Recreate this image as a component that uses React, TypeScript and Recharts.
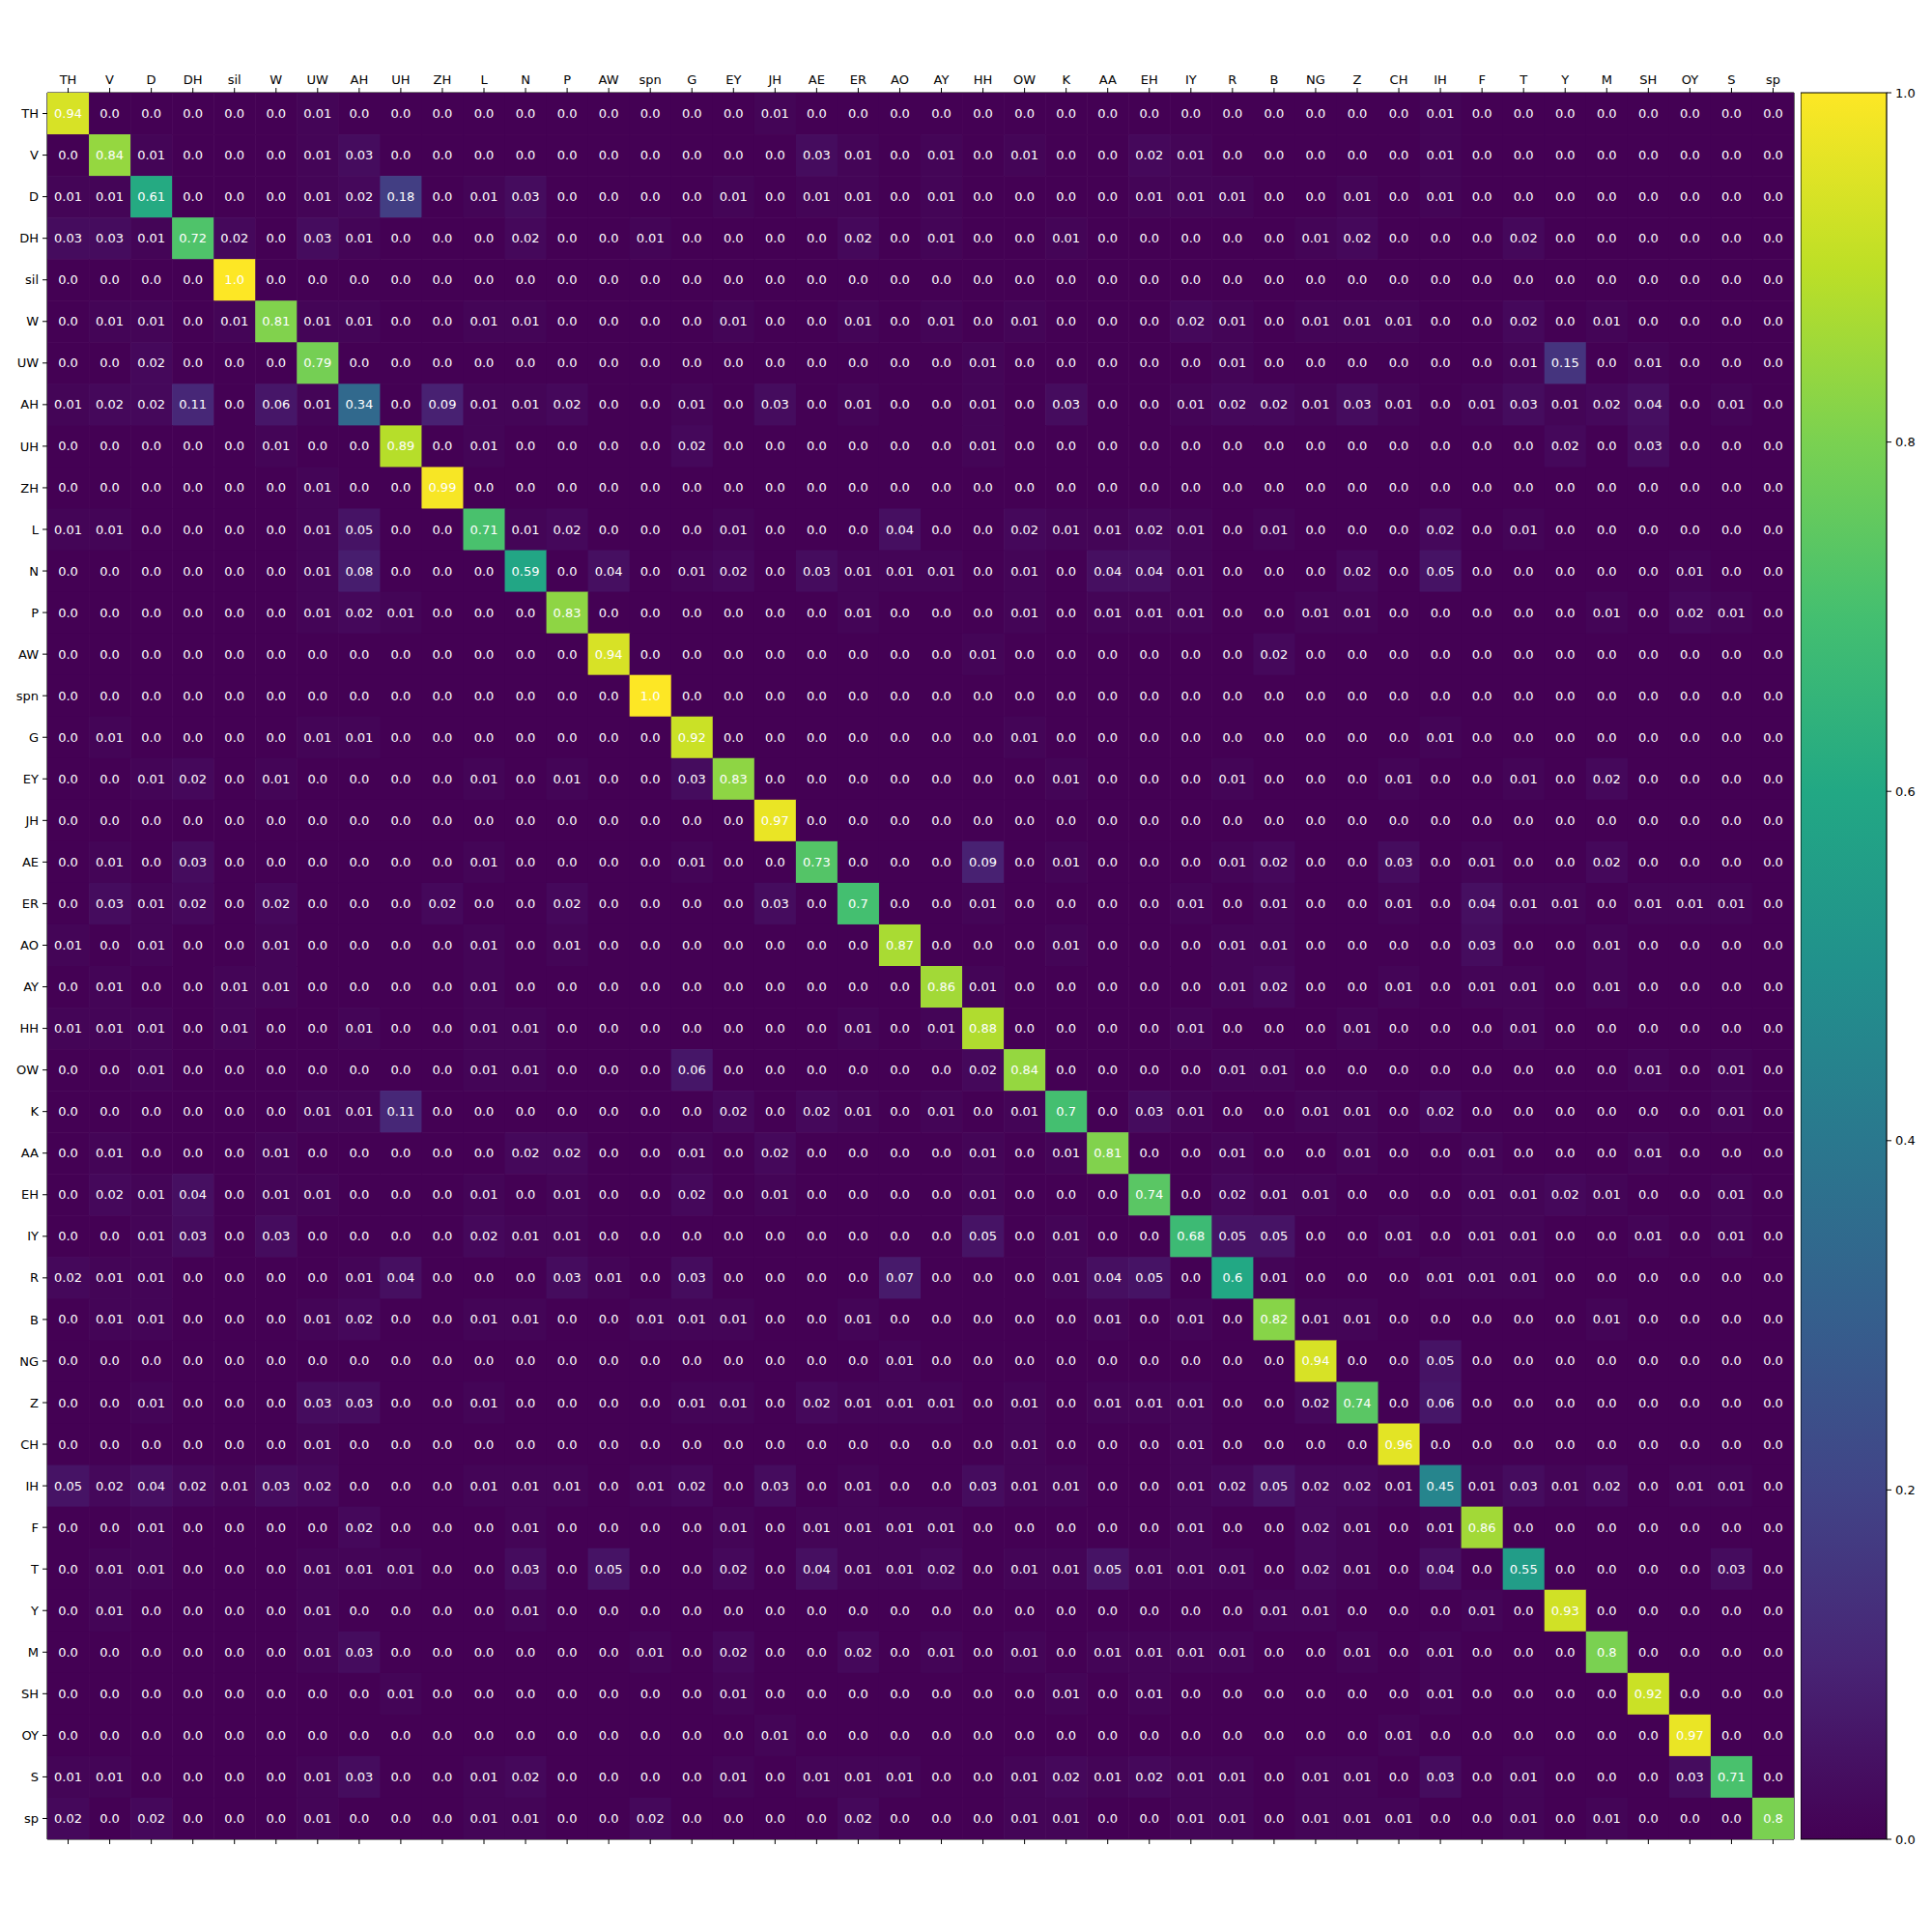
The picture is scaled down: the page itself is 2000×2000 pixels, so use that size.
import { ScatterChart, Scatter, XAxis, YAxis, ReferenceLine, BarChart, Bar } from 'recharts'

const LABELS = [
  'TH', 'V', 'D', 'DH', 'sil', 'W', 'UW', 'AH', 'UH', 'ZH', 'L', 'N', 'P', 'AW',
  'spn', 'G', 'EY', 'JH', 'AE', 'ER', 'AO', 'AY', 'HH', 'OW', 'K', 'AA', 'EH', 'IY',
  'R', 'B', 'NG', 'Z', 'CH', 'IH', 'F', 'T', 'Y', 'M', 'SH', 'OY', 'S', 'sp',
]

// one row per true label, columns in LABELS order
const CONFUSION: number[][] = [
  /* TH */ [0.94,0,0,0,0,0,0.01,0,0,0,0,0,0,0, 0,0,0,0.01,0,0,0,0,0,0,0,0,0,0, 0,0,0,0,0,0.01,0,0,0,0,0,0,0,0],
  /* V */ [0,0.84,0.01,0,0,0,0.01,0.03,0,0,0,0,0,0, 0,0,0,0,0.03,0.01,0,0.01,0,0.01,0,0,0.02,0.01, 0,0,0,0,0,0.01,0,0,0,0,0,0,0,0],
  /* D */ [0.01,0.01,0.61,0,0,0,0.01,0.02,0.18,0,0.01,0.03,0,0, 0,0,0.01,0,0.01,0.01,0,0.01,0,0,0,0,0.01,0.01, 0.01,0,0,0.01,0,0.01,0,0,0,0,0,0,0,0],
  /* DH */ [0.03,0.03,0.01,0.72,0.02,0,0.03,0.01,0,0,0,0.02,0,0, 0.01,0,0,0,0,0.02,0,0.01,0,0,0.01,0,0,0, 0,0,0.01,0.02,0,0,0,0.02,0,0,0,0,0,0],
  /* sil */ [0,0,0,0,1,0,0,0,0,0,0,0,0,0, 0,0,0,0,0,0,0,0,0,0,0,0,0,0, 0,0,0,0,0,0,0,0,0,0,0,0,0,0],
  /* W */ [0,0.01,0.01,0,0.01,0.81,0.01,0.01,0,0,0.01,0.01,0,0, 0,0,0.01,0,0,0.01,0,0.01,0,0.01,0,0,0,0.02, 0.01,0,0.01,0.01,0.01,0,0,0.02,0,0.01,0,0,0,0],
  /* UW */ [0,0,0.02,0,0,0,0.79,0,0,0,0,0,0,0, 0,0,0,0,0,0,0,0,0.01,0,0,0,0,0, 0.01,0,0,0,0,0,0,0.01,0.15,0,0.01,0,0,0],
  /* AH */ [0.01,0.02,0.02,0.11,0,0.06,0.01,0.34,0,0.09,0.01,0.01,0.02,0, 0,0.01,0,0.03,0,0.01,0,0,0.01,0,0.03,0,0,0.01, 0.02,0.02,0.01,0.03,0.01,0,0.01,0.03,0.01,0.02,0.04,0,0.01,0],
  /* UH */ [0,0,0,0,0,0.01,0,0,0.89,0,0.01,0,0,0, 0,0.02,0,0,0,0,0,0,0.01,0,0,0,0,0, 0,0,0,0,0,0,0,0,0.02,0,0.03,0,0,0],
  /* ZH */ [0,0,0,0,0,0,0.01,0,0,0.99,0,0,0,0, 0,0,0,0,0,0,0,0,0,0,0,0,0,0, 0,0,0,0,0,0,0,0,0,0,0,0,0,0],
  /* L */ [0.01,0.01,0,0,0,0,0.01,0.05,0,0,0.71,0.01,0.02,0, 0,0,0.01,0,0,0,0.04,0,0,0.02,0.01,0.01,0.02,0.01, 0,0.01,0,0,0,0.02,0,0.01,0,0,0,0,0,0],
  /* N */ [0,0,0,0,0,0,0.01,0.08,0,0,0,0.59,0,0.04, 0,0.01,0.02,0,0.03,0.01,0.01,0.01,0,0.01,0,0.04,0.04,0.01, 0,0,0,0.02,0,0.05,0,0,0,0,0,0.01,0,0],
  /* P */ [0,0,0,0,0,0,0.01,0.02,0.01,0,0,0,0.83,0, 0,0,0,0,0,0.01,0,0,0,0.01,0,0.01,0.01,0.01, 0,0,0.01,0.01,0,0,0,0,0,0.01,0,0.02,0.01,0],
  /* AW */ [0,0,0,0,0,0,0,0,0,0,0,0,0,0.94, 0,0,0,0,0,0,0,0,0.01,0,0,0,0,0, 0,0.02,0,0,0,0,0,0,0,0,0,0,0,0],
  /* spn */ [0,0,0,0,0,0,0,0,0,0,0,0,0,0, 1,0,0,0,0,0,0,0,0,0,0,0,0,0, 0,0,0,0,0,0,0,0,0,0,0,0,0,0],
  /* G */ [0,0.01,0,0,0,0,0.01,0.01,0,0,0,0,0,0, 0,0.92,0,0,0,0,0,0,0,0.01,0,0,0,0, 0,0,0,0,0,0.01,0,0,0,0,0,0,0,0],
  /* EY */ [0,0,0.01,0.02,0,0.01,0,0,0,0,0.01,0,0.01,0, 0,0.03,0.83,0,0,0,0,0,0,0,0.01,0,0,0, 0.01,0,0,0,0.01,0,0,0.01,0,0.02,0,0,0,0],
  /* JH */ [0,0,0,0,0,0,0,0,0,0,0,0,0,0, 0,0,0,0.97,0,0,0,0,0,0,0,0,0,0, 0,0,0,0,0,0,0,0,0,0,0,0,0,0],
  /* AE */ [0,0.01,0,0.03,0,0,0,0,0,0,0.01,0,0,0, 0,0.01,0,0,0.73,0,0,0,0.09,0,0.01,0,0,0, 0.01,0.02,0,0,0.03,0,0.01,0,0,0.02,0,0,0,0],
  /* ER */ [0,0.03,0.01,0.02,0,0.02,0,0,0,0.02,0,0,0.02,0, 0,0,0,0.03,0,0.7,0,0,0.01,0,0,0,0,0.01, 0,0.01,0,0,0.01,0,0.04,0.01,0.01,0,0.01,0.01,0.01,0],
  /* AO */ [0.01,0,0.01,0,0,0.01,0,0,0,0,0.01,0,0.01,0, 0,0,0,0,0,0,0.87,0,0,0,0.01,0,0,0, 0.01,0.01,0,0,0,0,0.03,0,0,0.01,0,0,0,0],
  /* AY */ [0,0.01,0,0,0.01,0.01,0,0,0,0,0.01,0,0,0, 0,0,0,0,0,0,0,0.86,0.01,0,0,0,0,0, 0.01,0.02,0,0,0.01,0,0.01,0.01,0,0.01,0,0,0,0],
  /* HH */ [0.01,0.01,0.01,0,0.01,0,0,0.01,0,0,0.01,0.01,0,0, 0,0,0,0,0,0.01,0,0.01,0.88,0,0,0,0,0.01, 0,0,0,0.01,0,0,0,0.01,0,0,0,0,0,0],
  /* OW */ [0,0,0.01,0,0,0,0,0,0,0,0.01,0.01,0,0, 0,0.06,0,0,0,0,0,0,0.02,0.84,0,0,0,0, 0.01,0.01,0,0,0,0,0,0,0,0,0.01,0,0.01,0],
  /* K */ [0,0,0,0,0,0,0.01,0.01,0.11,0,0,0,0,0, 0,0,0.02,0,0.02,0.01,0,0.01,0,0.01,0.7,0,0.03,0.01, 0,0,0.01,0.01,0,0.02,0,0,0,0,0,0,0.01,0],
  /* AA */ [0,0.01,0,0,0,0.01,0,0,0,0,0,0.02,0.02,0, 0,0.01,0,0.02,0,0,0,0,0.01,0,0.01,0.81,0,0, 0.01,0,0,0.01,0,0,0.01,0,0,0,0.01,0,0,0],
  /* EH */ [0,0.02,0.01,0.04,0,0.01,0.01,0,0,0,0.01,0,0.01,0, 0,0.02,0,0.01,0,0,0,0,0.01,0,0,0,0.74,0, 0.02,0.01,0.01,0,0,0,0.01,0.01,0.02,0.01,0,0,0.01,0],
  /* IY */ [0,0,0.01,0.03,0,0.03,0,0,0,0,0.02,0.01,0.01,0, 0,0,0,0,0,0,0,0,0.05,0,0.01,0,0,0.68, 0.05,0.05,0,0,0.01,0,0.01,0.01,0,0,0.01,0,0.01,0],
  /* R */ [0.02,0.01,0.01,0,0,0,0,0.01,0.04,0,0,0,0.03,0.01, 0,0.03,0,0,0,0,0.07,0,0,0,0.01,0.04,0.05,0, 0.6,0.01,0,0,0,0.01,0.01,0.01,0,0,0,0,0,0],
  /* B */ [0,0.01,0.01,0,0,0,0.01,0.02,0,0,0.01,0.01,0,0, 0.01,0.01,0.01,0,0,0.01,0,0,0,0,0,0.01,0,0.01, 0,0.82,0.01,0.01,0,0,0,0,0,0.01,0,0,0,0],
  /* NG */ [0,0,0,0,0,0,0,0,0,0,0,0,0,0, 0,0,0,0,0,0,0.01,0,0,0,0,0,0,0, 0,0,0.94,0,0,0.05,0,0,0,0,0,0,0,0],
  /* Z */ [0,0,0.01,0,0,0,0.03,0.03,0,0,0.01,0,0,0, 0,0.01,0.01,0,0.02,0.01,0.01,0.01,0,0.01,0,0.01,0.01,0.01, 0,0,0.02,0.74,0,0.06,0,0,0,0,0,0,0,0],
  /* CH */ [0,0,0,0,0,0,0.01,0,0,0,0,0,0,0, 0,0,0,0,0,0,0,0,0,0.01,0,0,0,0.01, 0,0,0,0,0.96,0,0,0,0,0,0,0,0,0],
  /* IH */ [0.05,0.02,0.04,0.02,0.01,0.03,0.02,0,0,0,0.01,0.01,0.01,0, 0.01,0.02,0,0.03,0,0.01,0,0,0.03,0.01,0.01,0,0,0.01, 0.02,0.05,0.02,0.02,0.01,0.45,0.01,0.03,0.01,0.02,0,0.01,0.01,0],
  /* F */ [0,0,0.01,0,0,0,0,0.02,0,0,0,0.01,0,0, 0,0,0.01,0,0.01,0.01,0.01,0.01,0,0,0,0,0,0.01, 0,0,0.02,0.01,0,0.01,0.86,0,0,0,0,0,0,0],
  /* T */ [0,0.01,0.01,0,0,0,0.01,0.01,0.01,0,0,0.03,0,0.05, 0,0,0.02,0,0.04,0.01,0.01,0.02,0,0.01,0.01,0.05,0.01,0.01, 0.01,0,0.02,0.01,0,0.04,0,0.55,0,0,0,0,0.03,0],
  /* Y */ [0,0.01,0,0,0,0,0.01,0,0,0,0,0.01,0,0, 0,0,0,0,0,0,0,0,0,0,0,0,0,0, 0,0.01,0.01,0,0,0,0.01,0,0.93,0,0,0,0,0],
  /* M */ [0,0,0,0,0,0,0.01,0.03,0,0,0,0,0,0, 0.01,0,0.02,0,0,0.02,0,0.01,0,0.01,0,0.01,0.01,0.01, 0.01,0,0,0.01,0,0.01,0,0,0,0.8,0,0,0,0],
  /* SH */ [0,0,0,0,0,0,0,0,0.01,0,0,0,0,0, 0,0,0.01,0,0,0,0,0,0,0,0.01,0,0.01,0, 0,0,0,0,0,0.01,0,0,0,0,0.92,0,0,0],
  /* OY */ [0,0,0,0,0,0,0,0,0,0,0,0,0,0, 0,0,0,0.01,0,0,0,0,0,0,0,0,0,0, 0,0,0,0,0.01,0,0,0,0,0,0,0.97,0,0],
  /* S */ [0.01,0.01,0,0,0,0,0.01,0.03,0,0,0.01,0.02,0,0, 0,0,0.01,0,0.01,0.01,0.01,0,0,0.01,0.02,0.01,0.02,0.01, 0.01,0,0.01,0.01,0,0.03,0,0.01,0,0,0,0.03,0.71,0],
  /* sp */ [0.02,0,0.02,0,0,0,0.01,0,0,0,0.01,0.01,0,0, 0.02,0,0,0,0,0.02,0,0,0,0.01,0.01,0,0,0.01, 0.01,0,0.01,0.01,0.01,0,0,0.01,0,0.01,0,0,0,0.8],
]

const COLORBAR_TICKS = [0, 0.2, 0.4, 0.6, 0.8, 1.0]

// viridis colormap, sampled every 0.1
const VIRIDIS = ['#440154', '#482475', '#414487', '#355f8d', '#2a788e', '#21918c', '#22a884', '#44bf70', '#7ad151', '#bddf26', '#fde725']

const PLOT_LEFT = 49
const PLOT_SIZE = 1808
const CELL = PLOT_SIZE / LABELS.length
const FONT = { fill: '#000', fontSize: 13 }

function hex(c: string) {
  return [1, 3, 5].map(i => parseInt(c.slice(i, i + 2), 16))
}

function viridis(v: number) {
  const t = Math.max(0, Math.min(1, v)) * (VIRIDIS.length - 1)
  const i = Math.min(Math.floor(t), VIRIDIS.length - 2)
  const f = t - i
  const a = hex(VIRIDIS[i])
  const b = hex(VIRIDIS[i + 1])
  const rgb = a.map((x, k) => Math.round(x + (b[k] - x) * f))
  return `rgb(${rgb.join(',')})`
}

const fmt = (v: number) => {
  const s = String(v)
  return s.includes('.') ? s : s + '.0'
}

const points = CONFUSION.flatMap((row, r) => row.map((v, c) => ({ x: c, y: r, v })))
const idx = LABELS.map((_, i) => i)

function MatrixCell(props: any) {
  const { cx, cy, payload } = props
  if (cx == null || cy == null) return null
  return (
    <g>
      <rect x={cx - CELL / 2} y={cy - CELL / 2} width={CELL + 0.6} height={CELL + 0.6} fill={viridis(payload.v)} />
      <text x={cx} y={cy} textAnchor="middle" dominantBaseline="central" fill="#fff" fontSize={13}>
        {fmt(payload.v)}
      </text>
    </g>
  )
}

const NoMark = () => <g />

export default function App() {
  return (
    <div style={{ position: 'absolute', left: 0, top: 0, width: 2000, height: 2000, background: '#fff', fontFamily: 'DejaVu Sans' }}>
      <div style={{ position: 'absolute', left: 0, top: 0 }}>
        <ScatterChart width={PLOT_LEFT + PLOT_SIZE + 1} height={2000} margin={{ top: 66, right: 1, bottom: 86, left: 0 }}>
          <XAxis
            xAxisId="top"
            orientation="top"
            type="number"
            dataKey="x"
            domain={[-0.5, LABELS.length - 0.5]}
            ticks={idx}
            interval={0}
            tickFormatter={(i: number) => LABELS[i]}
            height={30}
            tickSize={5}
            tickMargin={4}
            axisLine={false}
            tickLine={{ stroke: '#000' }}
            tick={FONT}
            allowDataOverflow
          />
          <XAxis
            xAxisId="bottom"
            orientation="bottom"
            type="number"
            dataKey="x"
            domain={[-0.5, LABELS.length - 0.5]}
            ticks={idx}
            interval={0}
            tickFormatter={() => ''}
            height={10}
            tickSize={5}
            axisLine={false}
            tickLine={{ stroke: '#000', strokeWidth: 1 }}
            tick={FONT}
            allowDataOverflow
          />
          <YAxis
            yAxisId="left"
            type="number"
            dataKey="y"
            reversed
            domain={[-0.5, LABELS.length - 0.5]}
            ticks={idx}
            interval={0}
            tickFormatter={(i: number) => LABELS[i]}
            width={PLOT_LEFT}
            tickSize={5}
            tickMargin={4}
            axisLine={false}
            tickLine={{ stroke: '#000' }}
            tick={FONT}
            allowDataOverflow
          />
          <Scatter xAxisId="top" yAxisId="left" data={points} shape={MatrixCell} isAnimationActive={false} />
          <Scatter xAxisId="bottom" yAxisId="left" data={points} shape={NoMark} isAnimationActive={false} />
          <ReferenceLine xAxisId="top" yAxisId="left" x={-0.5} stroke="#000" strokeWidth={1.2} />
          <ReferenceLine xAxisId="top" yAxisId="left" x={LABELS.length - 0.5} stroke="#000" strokeWidth={1.2} />
          <ReferenceLine xAxisId="top" yAxisId="left" y={-0.5} stroke="#000" strokeWidth={1.2} />
          <ReferenceLine xAxisId="top" yAxisId="left" y={LABELS.length - 0.5} stroke="#000" strokeWidth={1.2} />
        </ScatterChart>
      </div>
      <div style={{ position: 'absolute', left: 1864, top: 0 }}>
        <BarChart width={136} height={2000} data={[{ name: 'scale', v: 1 }]} margin={{ top: 96, right: 0, bottom: 96, left: 0 }} barCategoryGap={0}>
          <defs>
            <linearGradient id="viridisGrad" x1="0" y1="1" x2="0" y2="0">
              {VIRIDIS.map((c, i) => (
                <stop key={c} offset={i / (VIRIDIS.length - 1)} stopColor={c} />
              ))}
            </linearGradient>
          </defs>
          <XAxis dataKey="name" hide height={0} />
          <YAxis
            orientation="right"
            type="number"
            domain={[0, 1]}
            ticks={COLORBAR_TICKS}
            interval={0}
            tickFormatter={(v: number) => v.toFixed(1)}
            width={47}
            tickSize={5}
            tickMargin={4}
            axisLine={false}
            tickLine={{ stroke: '#000' }}
            tick={FONT}
          />
          <Bar dataKey="v" fill="url(#viridisGrad)" stroke="#000" strokeWidth={1.2} isAnimationActive={false} />
        </BarChart>
      </div>
    </div>
  )
}
